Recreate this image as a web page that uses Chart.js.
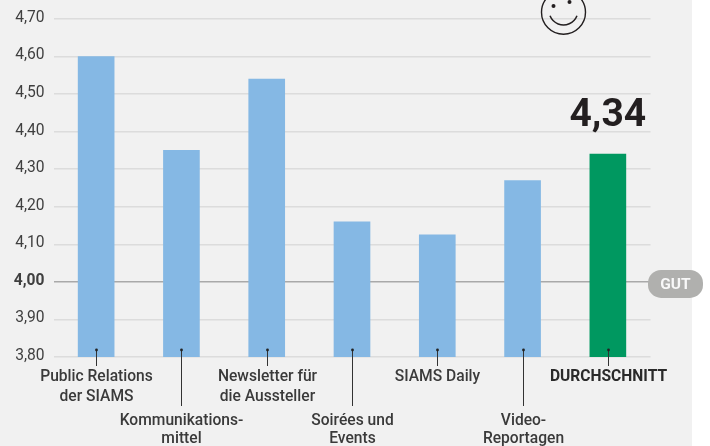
<!DOCTYPE html>
<html><head><meta charset="utf-8">
<style>html,body{margin:0;padding:0;background:#fff}#w{width:710px;height:446px}canvas{display:block}</style>
<script src="https://cdn.jsdelivr.net/npm/chart.js@4"></script>
</head><body><div id="w"><canvas id="c" width="710" height="446"></canvas></div>
<script>
const categories = [
  ['Public Relations','der SIAMS'],
  ['Kommunikations-','mittel'],
  ['Newsletter für','die Aussteller'],
  ['Soirées und','Events'],
  ['SIAMS Daily'],
  ['Video-','Reportagen'],
  ['DURCHSCHNITT']
];
const scores = [4.60,4.35,4.54,4.16,4.125,4.27,4.34];
const barColors = ['#85b8e4','#85b8e4','#85b8e4','#85b8e4','#85b8e4','#85b8e4','#009860'];
const averageLabel = '4,34';
const referenceLabel = 'GUT';
const yMin = 3.8, yMax = 4.7, yStep = 0.1;
const FONT = 'Roboto, sans-serif';
const INK = '#3a3a3a';
const isRef = c => !!c.tick && Math.abs(c.tick.value-4)<1e-6;

const decor = {
  id:'decor',
  beforeDraw(ch){
    const c=ch.ctx; c.save();
    c.fillStyle='#f1f1f1'; c.fillRect(0,0,692,446);
    c.restore();
  },
  afterDatasetsDraw(ch){
    const c=ch.ctx, xs=ch.scales.x, ys=ch.scales.y;
    c.save();
    const base=ys.getPixelForValue(yMin);
    categories.forEach((lines,i)=>{
      const x=Math.round(xs.getPixelForValue(i))+0.5;
      const low=i%2===1;
      c.strokeStyle='#333'; c.lineWidth=1;
      c.beginPath(); c.moveTo(x,base-7); c.lineTo(x,low?406:366); c.stroke();
      c.fillStyle='#222'; c.beginPath(); c.arc(x,base-7,1.4,0,Math.PI*2); c.fill();
      c.textAlign='center'; c.textBaseline='middle';
      const bold=i===categories.length-1;
      c.font=(bold?'700 ':'500 ')+'15.6px '+FONT;
      c.fillStyle=bold?'#2a2a2a':INK;
      const ys0=low?[421,439]:[377,397];
      lines.forEach((t,k)=>c.fillText(t,x,ys0[k]));
    });
    const last=scores.length-1;
    c.font='700 39px '+FONT; c.fillStyle='#231f20'; c.textAlign='center'; c.textBaseline='middle';
    c.fillText(averageLabel,xs.getPixelForValue(last),ys.getPixelForValue(scores[last])-38);
    const py=ys.getPixelForValue(4.0)+2;
    c.fillStyle='#b0b0ae'; c.beginPath(); c.roundRect(648,py-14,55,28,13); c.fill();
    c.fillStyle='#f8f8f8'; c.font='700 15.5px '+FONT; c.fillText(referenceLabel,675.5,py+1);
    c.strokeStyle='#231f20'; c.lineWidth=1.4;
    c.beginPath(); c.arc(563.5,12.3,22,0,Math.PI*2); c.stroke();
    c.lineWidth=1.5;
    c.beginPath(); c.arc(563.5,10.5,14.5,0.12*Math.PI,0.88*Math.PI); c.stroke();
    c.fillStyle='#231f20';
    c.beginPath(); c.arc(553.5,6,2,0,Math.PI*2); c.fill();
    c.beginPath(); c.arc(569.5,2,2,0,Math.PI*2); c.fill();
    c.restore();
  }
};

new Chart(document.getElementById('c'),{
  type:'bar',
  data:{labels:categories.map(l=>l.join(' ')),datasets:[{data:scores,backgroundColor:barColors,barThickness:36,borderWidth:0}]},
  plugins:[decor],
  options:{
    responsive:false,animation:false,
    layout:{padding:{left:0,right:59.5,top:19,bottom:89}},
    plugins:{legend:{display:false},tooltip:{enabled:false}},
    scales:{
      x:{display:true,grid:{display:false,drawTicks:false},border:{display:false},ticks:{display:false}},
      y:{min:yMin,max:yMax,
        afterFit(s){s.width=53.5;},
        border:{display:false},
        grid:{drawTicks:false,lineWidth:1.5,color:c=>isRef(c)?'#a9a9a9':'#dcdcdc'},
        ticks:{stepSize:yStep,padding:9,labelOffset:-1,color:'#3f3f3f',
          font:c=>({family:FONT,size:15.6,weight:isRef(c)?'700':'400'}),
          callback:v=>v.toFixed(2).replace('.',',')}}
    }
  }
});
</script></body></html>
